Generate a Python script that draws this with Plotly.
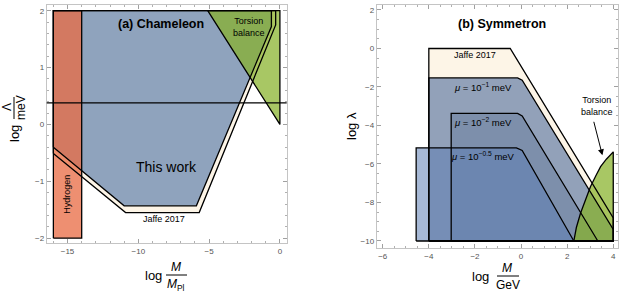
import plotly.graph_objects as go

W, H = 623, 294
FONT = "Liberation Sans, Arial, sans-serif"

# ---------------- (a) Chameleon data ----------------
hyd_x = [-16, -14, -14, -16]
hyd_y = [-2, -2, 2, 2]
work_x = [-16, -11.0, -5.9, -0.6, -0.6, -16]
work_y = [-0.40, -1.43, -1.43, 1.72, 2.0, 2.0]
jaffe_a_x = [-16, -10.9, -5.7, -0.3, -0.3, -16]
jaffe_a_y = [-0.51, -1.55, -1.55, 1.75, 2.0, 2.0]
tors_a_x = [-5.1, 0, 0]
tors_a_y = [2, 0, 2]
hline_a = 0.38

# ---------------- (b) Symmetron data ----------------
jaffe_b_x = [-4, -4, -0.47, 4, 4]
jaffe_b_y = [-10, 0, 0, -8.8, -10]
mu1_x = [-4, -4, -0.15, 0.05, 4, 4]
mu1_y = [-10, -1.53, -1.53, -1.65, -9.4, -10]
mu2_x = [-3.03, -3.03, -0.15, 0.05, 3.33]
mu2_y = [-10, -3.37, -3.37, -3.5, -10]
mu05_x = [-4.55, -4.55, -0.2, 0.05, 2.29]
mu05_y = [-10, -5.16, -5.16, -5.3, -10]
tors_b_x = [2.29, 2.4, 2.58, 2.8, 3.01, 3.25, 3.45, 3.7, 3.88, 4.0, 4.0]
tors_b_y = [-10, -9.3, -8.56, -7.8, -7.18, -6.6, -6.14, -5.75, -5.54, -5.37, -10]

fig = go.Figure()


def poly(xs, ys, color, ax="x", ay="y"):
    fig.add_trace(go.Scatter(x=list(xs) + [xs[0]], y=list(ys) + [ys[0]], mode="lines",
                             fill="toself", fillcolor=color, line=dict(width=0),
                             xaxis=ax, yaxis=ay, hoverinfo="skip", showlegend=False))


def outline(xs, ys, ax="x", ay="y", w=1.3):
    fig.add_trace(go.Scatter(x=list(xs) + [xs[0]], y=list(ys) + [ys[0]], mode="lines",
                             line=dict(color="black", width=w), xaxis=ax, yaxis=ay,
                             hoverinfo="skip", showlegend=False))


CREAM = "rgb(253,245,231)"
# panel a fills
poly(jaffe_a_x, jaffe_a_y, CREAM)
poly(work_x, work_y, "rgb(143,163,189)")
poly(hyd_x, hyd_y, "rgba(232,108,68,0.76)")
poly(tors_a_x, tors_a_y, "rgba(135,178,40,0.72)")
for xs, ys in [(jaffe_a_x, jaffe_a_y), (work_x, work_y), (hyd_x, hyd_y), (tors_a_x, tors_a_y)]:
    outline(xs, ys)

# panel b fills
poly(jaffe_b_x, jaffe_b_y, CREAM, "x2", "y2")
poly(mu1_x, mu1_y, "rgba(100,125,165,0.7)", "x2", "y2")
poly(mu2_x, mu2_y, "rgba(85,110,145,0.35)", "x2", "y2")
poly(mu05_x, mu05_y, "rgba(95,128,180,0.55)", "x2", "y2")
poly(tors_b_x, tors_b_y, "rgba(135,178,40,0.72)", "x2", "y2")
for xs, ys in [(jaffe_b_x, jaffe_b_y), (mu1_x, mu1_y), (mu2_x, mu2_y), (mu05_x, mu05_y),
               (tors_b_x, tors_b_y)]:
    outline(xs, ys, "x2", "y2")

axis_common = dict(showline=True, linecolor="#c4c4c4", linewidth=1, mirror="ticks",
                   ticks="inside", ticklen=4, tickcolor="#a0a0a0", showgrid=False,
                   zeroline=False, tickfont=dict(size=8, color="#555555", family=FONT))

fig.update_layout(
    width=W, height=H, margin=dict(l=0, r=0, t=0, b=0),
    paper_bgcolor="white", plot_bgcolor="white", showlegend=False,
    font=dict(family=FONT, color="black"),
    xaxis=dict(domain=[0.0750, 0.4602], range=[-16.47, 0.48], anchor="y", dtick=5, tick0=0,
               minor=dict(dtick=1, ticks="inside", ticklen=2, tickcolor="#b0b0b0"), **axis_common),
    yaxis=dict(domain=[0.1724, 0.9830], range=[-2.09, 2.10], anchor="x", dtick=1, tick0=0,
               minor=dict(dtick=0.2, ticks="inside", ticklen=2, tickcolor="#b0b0b0"), **axis_common),
    xaxis2=dict(domain=[0.6047, 0.9925], range=[-6.26, 4.22], anchor="y2", dtick=2, tick0=0,
                minor=dict(dtick=0.5, ticks="inside", ticklen=2, tickcolor="#b0b0b0"), **axis_common),
    yaxis2=dict(domain=[0.1554, 0.983], range=[-10.38, 2.26], anchor="x2", dtick=2, tick0=0,
                minor=dict(dtick=0.5, ticks="inside", ticklen=2, tickcolor="#b0b0b0"), **axis_common),
)

fig.add_shape(type="line", xref="x domain", yref="y", x0=0, x1=1, y0=hline_a, y1=hline_a,
              line=dict(color="black", width=1.2))

ann = []


def data_text(text, x, y, size, ax="x", ay="y", bold=False, angle=0):
    t = f"<b>{text}</b>" if bold else text
    ann.append(dict(text=t, x=x, y=y, xref=ax, yref=ay, showarrow=False, textangle=angle,
                    font=dict(size=size, family=FONT, color="black"), xanchor="center",
                    yanchor="middle"))


def px_text(text, px, py, size, angle=0):
    ann.append(dict(text=text, x=px / W, y=1 - py / H, xref="paper", yref="paper",
                    showarrow=False, textangle=angle, xanchor="center", yanchor="middle",
                    font=dict(size=size, family=FONT, color="black")))


def px_line(x0, y0, x1, y1):
    fig.add_shape(type="line", xref="paper", yref="paper", x0=x0 / W, x1=x1 / W,
                  y0=1 - y0 / H, y1=1 - y1 / H, line=dict(color="black", width=1))


# panel a labels
data_text("(a) Chameleon", -8.37, 1.77, 12.5, bold=True)
data_text("Torsion<br>balance", -2.2, 1.72, 9)
data_text("This work", -8.0, -0.74, 14)
data_text("Jaffe 2017", -8.16, -1.67, 9)
data_text("Hydrogen", -15.05, -1.22, 9, angle=-90)

# panel b labels
data_text("(b) Symmetron", -0.83, 1.26, 12.5, "x2", "y2", bold=True)
data_text("Jaffe 2017", -2.0, -0.32, 9, "x2", "y2")
data_text("<i>μ</i> = 10<sup>−1</sup> meV", -1.64, -2.0, 9.5, "x2", "y2")
data_text("<i>μ</i> = 10<sup>−2</sup> meV", -1.64, -3.8, 9.5, "x2", "y2")
data_text("<i>μ</i> = 10<sup>−0.5</sup> meV", -1.64, -5.56, 9.5, "x2", "y2")
data_text("Torsion<br>balance", 3.3, -3.0, 9, "x2", "y2")
ann.append(dict(text="", x=3.53, y=-5.55, xref="x2", yref="y2", ax=3.14, ay=-3.73,
                axref="x2", ayref="y2", showarrow=True, arrowhead=2, arrowsize=1.2,
                arrowwidth=1, arrowcolor="black"))

# axis titles (fractions)
px_text("log", 14, 134, 13, angle=-90)
px_text("Λ", 7, 107, 12, angle=-90)
px_text("meV", 21, 108, 12, angle=-90)
px_line(14, 97, 14, 119)

px_text("log", 153, 275, 13)
px_text("<i>M</i>", 176, 267, 12)
px_text("<i>M</i><sub>Pl</sub>", 176, 285, 12)
px_line(166, 275, 187, 275)

px_text("log", 480, 276, 13)
px_text("<i>M</i>", 507, 268, 12)
px_text("GeV", 508, 285, 12)
px_line(497, 276, 519, 276)

px_text("log λ", 351, 126, 13, angle=-90)

fig.update_layout(annotations=ann)
fig.write_html("out.html", config={"displayModeBar": False},
               post_script="document.body.style.margin='0';document.body.style.padding='0';")
